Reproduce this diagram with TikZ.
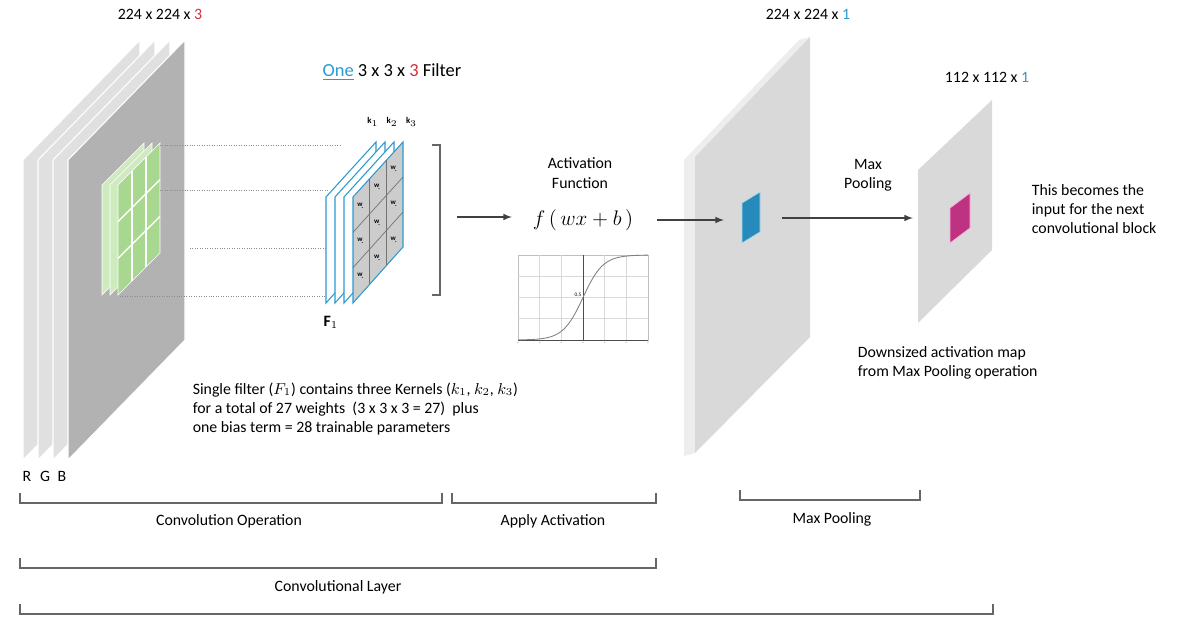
\documentclass[tikz,border=0pt]{standalone}
\usepackage{fontspec}
\setmainfont{Carlito}
\usetikzlibrary{positioning, calc}
\definecolor{redn}{HTML}{D0303A}
\definecolor{bluen}{HTML}{2A9AD0}
\definecolor{greenk}{HTML}{A8D890}
\definecolor{greenb}{HTML}{CDEBBE}
\tikzset{
	every node/.append style={
		font=\fontsize{9}{11}\selectfont,
		inner sep=0.5mm,
	},
	txt/.append style={
		align = left,
		anchor = west,
	},
	slab/.append style={
		fill=black!15,
		draw=white,
		line width=0.6pt,
	},
	brk/.append style={
		draw=black!60,
		line width=0.7pt,
	},
	flow/.append style={
		->, >=latex,
		draw=black!75,
		line width=0.7pt,
	},
	guide/.append style={
		densely dotted,
		draw=black!45,
	}
}
\begin{document}
\begin{tikzpicture}[x=0.02cm, y=-0.02cm]
\useasboundingbox (0,0) rectangle (1196,628);

% input volume
\foreach \dx in {-45, -30, -15} {
	\fill[slab, fill=black!12] ($(68,160)+(\dx,0)$) -- ($(185,40)+(\dx,0)$) -- ($(185,340)+(\dx,0)$) -- ($(68,460)+(\dx,0)$) -- cycle;
};
\fill[slab, fill=black!30] (68,160) -- (185,40) -- (185,340) -- (68,460) -- cycle;
\node(rgbR) at (27,476) {R};
\node(rgbG) at (45,476) {G};
\node(rgbB) at (62,476) {B};
\node(insize) at (160,14) {224 x 224 x \textcolor{redn}{3}};

% kernel on input
\foreach \dx in {-16, -8} {
	\fill[draw=white, fill=greenb] ($(118,185)+(\dx,0)$) -- ($(160,143)+(\dx,0)$) -- ($(160,253)+(\dx,0)$) -- ($(118,295)+(\dx,0)$) -- cycle;
};
\fill[draw=white, fill=greenk] (118,185) -- (160,143) -- (160,253) -- (118,295) -- cycle;
\foreach \t in {1,2} {
	\draw[white, line width=0.8pt] ($(118,185)!\t/3!(160,143)$) -- ($(118,295)!\t/3!(160,253)$);
	\draw[white, line width=0.8pt] ($(118,185)!\t/3!(118,295)$) -- ($(160,143)!\t/3!(160,253)$);
};

% dotted guides
\coordinate(g1a) at (160,145); \coordinate(g1b) at (340,145);
\coordinate(g2a) at (160,190); \coordinate(g2b) at (328,190);
\coordinate(g3a) at (190,248); \coordinate(g3b) at (328,248);
\coordinate(g4a) at (120,296); \coordinate(g4b) at (328,296);
\foreach \g in {1,...,4} {
	\draw[guide] (g\g a) -- (g\g b);
};

% filter
\foreach \dx in {-27, -18, -9} {
	\fill[draw=bluen, fill=white, line width=0.6pt] ($(353,197)+(\dx,0)$) -- ($(403,142)+(\dx,0)$) -- ($(403,247)+(\dx,0)$) -- ($(353,303)+(\dx,0)$) -- cycle;
};
\fill[draw=bluen, fill=black!20, line width=0.6pt] (353,197) -- (403,142) -- (403,247) -- (353,303) -- cycle;
\foreach \t in {1,2} {
	\draw[black!55] ($(353,197)!\t/3!(403,142)$) -- ($(353,303)!\t/3!(403,247)$);
	\draw[black!55] ($(353,197)!\t/3!(353,303)$) -- ($(403,142)!\t/3!(403,247)$);
};
\foreach \i in {0,1,2} {
	\foreach \j in {0,1,2} {
		\node[font=\fontsize{4}{4}\selectfont, inner sep=0] at ($(353,197)+({(\i+0.5)*50/3},{-(\i+0.5)*55/3+(\j+0.5)*106/3})$) {$\mathbf{w}_{\!.}$};
	};
};
\node(k1) at (373,122) {\fontsize{5}{5}\selectfont$\mathbf{k}_1$};
\node(k2)[right = 0.5mm of k1] {\fontsize{5}{5}\selectfont$\mathbf{k}_2$};
\node(k3)[right = 0.5mm of k2] {\fontsize{5}{5}\selectfont$\mathbf{k}_3$};
\node(F1) at (331,322) {$\mathbf{F}_1$};
\node(ftitle) at (392,72) {\fontsize{10.5}{12}\selectfont\textcolor{bluen}{\underline{One}} 3 x 3 x \textcolor{redn}{3} Filter};
\draw[brk] (432,145) -- (440,145) -- (440,295) -- (432,295);

\node(note)[txt] at (190,409) {Single filter ($F_1$) contains three Kernels ($k_1$, $k_2$, $k_3$)\\for a total of 27 weights \ (3 x 3 x 3 = 27) \ plus\\one bias term = 28 trainable parameters};

% activation
\coordinate(a1) at (457,217);
\coordinate(a2) at (512,217);
\draw[flow] (a1) -- (a2);
\node(actlbl)[align=center] at (580,173) {Activation\\Function};
\node(fx) at (583,220) {\fontsize{12}{14}\selectfont$f\,(\,wx + b\,)$};

\begin{scope}[shift={(518,255)}]
	\draw[black!25, line width=0.3pt] (0,0) rectangle (130,85);
	\foreach \gx in {21.7,43.3,86.7,108.3} { \draw[black!15, line width=0.3pt] (\gx,0) -- (\gx,85); };
	\foreach \gy in {21,42,63} { \draw[black!15, line width=0.3pt] (0,\gy) -- (130,\gy); };
	\draw[black!70, line width=0.4pt] (65,0) -- (65,85);
	\draw[black!70, line width=0.4pt] (0,85) -- (130,85);
	\draw[black!50, line width=0.5pt, domain=0:130, samples=60] plot (\x, {85-85/(1+exp(-(\x-65)/10))});
	\node[font=\fontsize{3}{3}\selectfont, inner sep=0] (half) at (60,40) {0.5};
	\foreach \tx in {0,21.7,43.3,65,86.7,108.3,130} { \node[font=\fontsize{2.5}{3}\selectfont, inner sep=0] at (\tx,89) {-}; };
\end{scope}

% activation map
\fill[fill=black!7] (684,160) -- (799,40) -- (810,37) -- (695,157) -- (695,453) -- (684,456) -- cycle;
\fill[fill=black!15] (695,157) -- (810,37) -- (810,337) -- (695,453) -- cycle;
\node(msize) at (808,14) {224 x 224 x \textcolor{bluen}{1}};
\fill[draw=bluen!40, fill=bluen!90!black] (742,203) -- (760,192) -- (760,232) -- (742,243) -- cycle;
\coordinate(b1) at (657,220);
\coordinate(b2) at (724,220);
\draw[flow] (b1) -- (b2);

% pooled map
\fill[fill=black!15] (918,170) -- (992,100) -- (992,250) -- (918,323) -- cycle;
\node(psize) at (987,77) {112 x 112 x \textcolor{bluen}{1}};
\fill[draw=magenta!30, fill=magenta!75!black] (950,208) -- (970,193) -- (970,228) -- (950,243) -- cycle;
\coordinate(c1) at (782,218);
\coordinate(c2) at (913,218);
\draw[flow] (c1) -- (c2);
\node(poollbl)[align=center] at (868,175) {Max\\Pooling};
\node(nextlbl)[txt] at (1029,209) {This becomes the\\input for the next\\convolutional block};
\node(downlbl)[txt] at (855,363) {Downsized activation map\\from Max Pooling operation};

% brackets
\draw[brk] (20,493) -- (20,503) -- (442,503) -- (442,493);
\node(convop) at (229,521) {Convolution Operation};
\draw[brk] (452,493) -- (452,503) -- (656,503) -- (656,493);
\node(applyact) at (553,521) {Apply Activation};
\draw[brk] (740,490) -- (740,500) -- (920,500) -- (920,490);
\node(poolbrk) at (832,519) {Max Pooling};
\draw[brk] (20,558) -- (20,568) -- (656,568) -- (656,558);
\node(convlayer) at (338,587) {Convolutional Layer};
\draw[brk] (20,604) -- (20,614) -- (993,614) -- (993,604);

\end{tikzpicture}
\end{document}
